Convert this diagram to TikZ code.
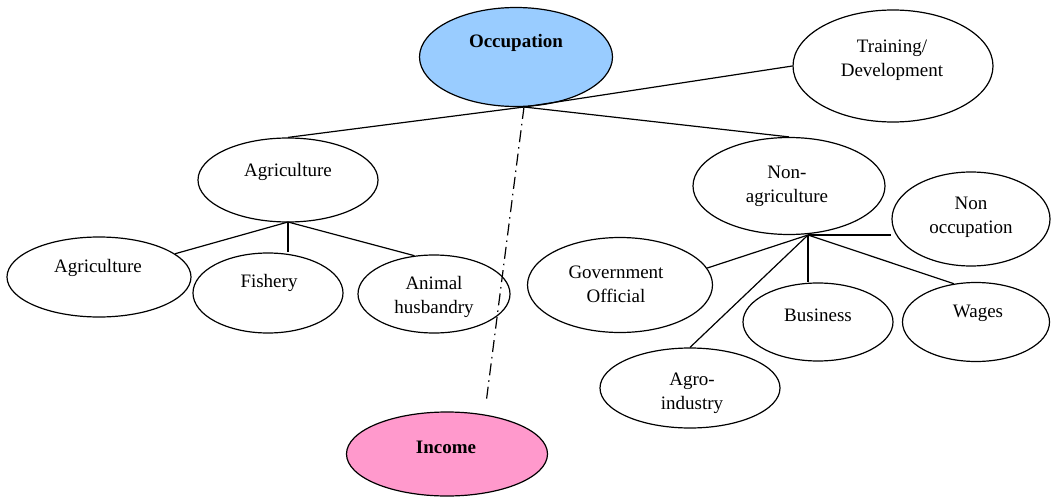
\documentclass[tikz,border=0pt]{standalone}
\usepackage{fontspec}
\setmainfont{Liberation Serif}
\usetikzlibrary{shapes.geometric}

\definecolor{occblue}{RGB}{153,204,255}
\definecolor{incpink}{RGB}{255,153,204}

\tikzset{
	oval/.style 2 args={draw, ellipse, line width=1.2pt, inner sep=0pt, minimum width=#1pt, minimum height=#2pt},
	lbl/.style={font=\fontsize{19}{24}\selectfont, align=center, inner sep=0pt},
	link/.style={line width=1.2pt},
	dashdot/.style={line width=1.2pt, dash pattern=on 12pt off 5pt on 1.5pt off 5pt}
}

\begin{document}
\begin{tikzpicture}[x=1pt,y=-1pt]
		\useasboundingbox (0,0) rectangle (1051,497);
		
		%ovals
		\node[oval={193}{99}, fill=occblue] (occ) at (516,57) {};
		\node[oval={200}{112}] (train) at (893,66) {};
		\node[oval={180}{84}] (agr) at (288,180) {};
		\node[oval={192}{97}] (nonagr) at (789,186) {};
		\node[oval={184}{80}] (agl) at (99,277) {};
		\node[oval={150}{80}] (fish) at (268,293) {};
		\node[oval={152}{78}] (anim) at (434,294) {};
		\node[oval={158}{94}] (nonocc) at (971,219) {};
		\node[oval={185}{95}] (gov) at (620,285) {};
		\node[oval={150}{78}] (bus) at (818,322) {};
		\node[oval={147}{79}] (wag) at (976,322) {};
		\node[oval={180}{80}] (agro) at (690,388) {};
		\node[oval={201}{84}, fill=incpink] (inc) at (447,454) {};
		
		%texts
		\node[lbl] (tocc) at (516,43) {\bfseries Occupation};
		\node[lbl] (ttrain) at (892,60) {Training/\\Development};
		\node[lbl] (tagr) at (288,172) {Agriculture};
		\node[lbl] (tnonagr) at (787,186) {Non-\\agriculture};
		\node[lbl] (tagl) at (98,268) {Agriculture};
		\node[lbl] (tfish) at (269,283) {Fishery};
		\node[lbl] (tanim) at (434,297) {Animal\\husbandry};
		\node[lbl] (tnonocc) at (971,217) {Non\\occupation};
		\node[lbl] (tgov) at (616,284) {Government\\Official};
		\node[lbl] (tbus) at (818,315) {Business};
		\node[lbl] (twag) at (978,313) {Wages};
		\node[lbl] (tagro) at (692,393) {Agro-\\industry};
		\node[lbl] (tinc) at (446,447) {\bfseries Income};
		
		%branch points
		\coordinate (occJ) at (524,107);
		\coordinate (agrJ) at (288,222);
		\coordinate (nonJ) at (808,235);
		
		%links
		\draw[link] (occJ) -- (agr.north);
		\draw[link] (occJ) -- (nonagr.north);
		\draw[link] (occJ) -- (train.west);
		\draw[dashdot] (occJ) -- ([xshift=39pt,yshift=8pt]inc.north);
		
		\draw[link] (agrJ) -- (agl.17);
		\draw[link] (agrJ) -- (agrJ |- fish.north);
		\draw[link] (agrJ) -- (anim.117);
		
		\draw[link] (nonJ) -- (nonJ -| nonocc.west);
		\draw[link] (nonJ) -- (gov.11);
		\draw[link] (nonJ) -- (nonJ |- bus.north);
		\draw[link] (nonJ) -- (wag.120);
		\draw[link] (nonJ) -- (agro.north);
\end{tikzpicture}
\end{document}
